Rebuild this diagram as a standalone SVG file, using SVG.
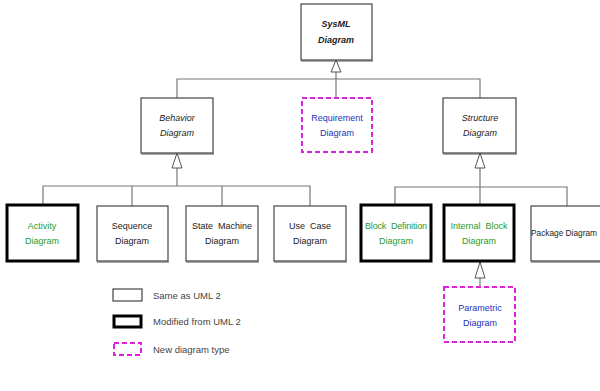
<svg xmlns="http://www.w3.org/2000/svg" width="600" height="391" viewBox="0 0 600 391">
<defs>
<style>
.box{fill:#fff;stroke:#444;stroke-width:1.2}
.shadow{fill:none;stroke:#555;stroke-width:1}
.mod{fill:#fff;stroke:#000;stroke-width:3}
.new{fill:#fff;stroke:#e020e0;stroke-width:2;stroke-dasharray:5,3}
.ln{fill:none;stroke:#777;stroke-width:1.2}
.tri{fill:#fff;stroke:#555;stroke-width:1}
text{font-family:"Liberation Sans",Arial,sans-serif;font-size:9px;text-anchor:middle;fill:#222}
.it{font-style:italic}
.bi{font-style:italic;font-weight:bold}
.g{fill:#2a9a2a}
.b{fill:#2233bb}
.leg{text-anchor:start;fill:#444;font-size:9.5px}
</style>
</defs>
<g id="connectors">
<line class="ln" x1="336" y1="72" x2="336" y2="79"/>
<polyline class="ln" points="177,98 177,79 480,79 480,98"/>
<line class="ln" x1="336" y1="79" x2="336" y2="98"/>
<line class="ln" x1="177" y1="168" x2="177" y2="186"/>
<polyline class="ln" points="43,204 43,186 310,186 310,206"/>
<line class="ln" x1="132" y1="186" x2="132" y2="206"/>
<line class="ln" x1="222" y1="186" x2="222" y2="206"/>
<line class="ln" x1="480" y1="168" x2="480" y2="204"/>
<polyline class="ln" points="395,204 395,187 567,187 567,206"/>
<line class="ln" x1="480" y1="278" x2="480" y2="287"/>
<polygon class="tri" points="336,60 331,72 341,72"/>
<polygon class="tri" points="177,153 172,168 182,168"/>
<polygon class="tri" points="480,153 475,168 485,168"/>
<polygon class="tri" points="480,262 475,278 485,278"/>
</g>
<g id="sysml">
<rect class="box" x="301" y="4" width="71" height="56"/>
<line class="shadow" x1="301" y1="61" x2="373" y2="61"/>
<text class="bi" x="336" y="27">SysML</text>
<text class="bi" x="336" y="43">Diagram</text>
</g>
<g id="behavior">
<rect class="box" x="141" y="98" width="72" height="55"/>
<line class="shadow" x1="141" y1="154" x2="214" y2="154"/>
<text class="it" x="177" y="121">Behavior</text>
<text class="it" x="177" y="136">Diagram</text>
</g>
<g id="requirement">
<rect class="new" x="302" y="98" width="70" height="54"/>
<text class="b" x="337" y="121">Requirement</text>
<text class="b" x="337" y="136">Diagram</text>
</g>
<g id="structure">
<rect class="box" x="443" y="98" width="73" height="55"/>
<line class="shadow" x1="443" y1="154" x2="517" y2="154"/>
<text class="it" x="480" y="121">Structure</text>
<text class="it" x="480" y="136">Diagram</text>
</g>
<g id="activity">
<rect class="mod" x="7" y="205" width="71" height="56"/>
<text class="g" x="42" y="229">Activity</text>
<text class="g" x="42" y="244">Diagram</text>
</g>
<g id="sequence">
<rect class="box" x="97" y="206" width="71" height="55"/>
<line class="shadow" x1="97" y1="262" x2="169" y2="262"/>
<text x="132" y="229">Sequence</text>
<text x="132" y="244">Diagram</text>
</g>
<g id="statemachine">
<rect class="box" x="186" y="206" width="72" height="55"/>
<line class="shadow" x1="186" y1="262" x2="259" y2="262"/>
<text x="222" y="229" xml:space="preserve">State  Machine</text>
<text x="222" y="244">Diagram</text>
</g>
<g id="usecase">
<rect class="box" x="274" y="206" width="72" height="55"/>
<line class="shadow" x1="274" y1="262" x2="347" y2="262"/>
<text x="310" y="229" xml:space="preserve">Use  Case</text>
<text x="310" y="244">Diagram</text>
</g>
<g id="blockdef">
<rect class="mod" x="361" y="205" width="70" height="56"/>
<text class="g" x="396" y="229" xml:space="preserve" textLength="62" lengthAdjust="spacing">Block  Definition</text>
<text class="g" x="396" y="244">Diagram</text>
</g>
<g id="internalblock">
<rect class="mod" x="444" y="205" width="70" height="56"/>
<text class="g" x="479" y="229" xml:space="preserve">Internal  Block</text>
<text class="g" x="479" y="244">Diagram</text>
</g>
<g id="package">
<rect class="box" x="531" y="206" width="75" height="55"/>
<line class="shadow" x1="531" y1="262" x2="600" y2="262"/>
<text x="564" y="236" style="font-size:8.5px" textLength="66" lengthAdjust="spacingAndGlyphs">Package Diagram</text>
</g>
<g id="parametric">
<rect class="new" x="444" y="287" width="71" height="55"/>
<text class="b" x="480" y="311">Parametric</text>
<text class="b" x="480" y="326">Diagram</text>
</g>
<g id="legend">
<rect class="box" x="113" y="289" width="29" height="12"/>
<text class="leg" x="153" y="299">Same as UML 2</text>
<rect class="mod" x="114" y="316" width="27" height="11"/>
<text class="leg" x="153" y="325">Modified from UML 2</text>
<rect class="new" x="114" y="343" width="27" height="12"/>
<text class="leg" x="153" y="353">New diagram type</text>
</g>
</svg>
